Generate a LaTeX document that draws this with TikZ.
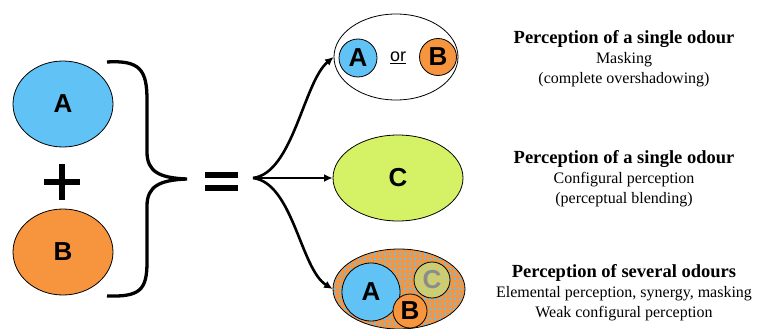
\documentclass[tikz,border=0pt]{standalone}
\usepackage{fontspec}
\setmainfont{Liberation Serif}
\newfontfamily\letterfont{Liberation Sans}
\usetikzlibrary{arrows.meta,shapes.geometric,patterns.meta}
\definecolor{odourA}{RGB}{97,195,245}
\definecolor{odourB}{RGB}{247,148,62}
\definecolor{odourC}{RGB}{213,242,102}
\definecolor{fadedC}{RGB}{200,222,120}

\begin{document}
\begin{tikzpicture}[x=1pt,y=-1pt]
\tikzstyle{odour} = [ellipse, draw, line width=0.8pt, inner sep=0pt, font=\letterfont\bfseries\fontsize{26}{26}\selectfont]
\tikzstyle{dot} = [circle, draw, line width=0.8pt, inner sep=0pt, font=\letterfont\bfseries\fontsize{26}{26}\selectfont]
\tikzstyle{arrow} = [-{Latex[length=3mm,width=2.8mm]}, line width=2.6pt]
\tikzstyle{caption} = [align=center, font=\fontsize{16}{20}\selectfont]
\useasboundingbox (0,0) rectangle (757,329);
\node[odour, fill=odourA, minimum width=100pt, minimum height=86pt] (inA) at (63,104) {A};
\node[odour, fill=odourB, minimum width=100pt, minimum height=86pt] (inB) at (63,252) {B};
\draw[line width=5.5pt] (44,182) -- (80,182) (62,164) -- (62,200);
\draw[line width=3.3pt] (107,62) .. controls (140,60) and (147,70) .. (147,100) -- (147,152)
  .. controls (147,172) and (160,178) .. (187,179)
  .. controls (160,180) and (147,186) .. (147,206) -- (147,262)
  .. controls (147,290) and (140,297) .. (107,296);
\draw[line width=5.5pt] (205,175) -- (238,175) (205,188) -- (238,188);
\coordinate (split) at (253,178);
\node[odour, fill=white, minimum width=124pt, minimum height=86pt] (masking) at (396,57) {};
\node[dot, fill=odourA, minimum size=38pt] (topA) at (358,58) {A};
\node[dot, fill=odourB, minimum size=37pt] (topB) at (438,57) {B};
\node[font=\letterfont\fontsize{18}{18}\selectfont] (orword) at (398,58) {\underline{or}};
\node[odour, fill=odourC, minimum width=130pt, minimum height=86pt] (blend) at (398,178) {C};
\node[odour, preaction={fill=odourB}, pattern={Dots[distance=5pt,radius=1.5pt]}, pattern color=odourA, minimum width=132pt, minimum height=80pt] (mix) at (399,289) {};
\node[dot, fill=odourA, minimum size=58pt] (mixA) at (371,292) {A};
\node[dot, fill=odourB, minimum size=34pt] (mixB) at (410,311) {B};
\node[dot, fill=fadedC, fill opacity=0.75, text opacity=1, text=black!45, minimum size=36pt] (mixC) at (432,280) {C};
\draw[arrow] (split) .. controls +(40,-5) and +(-30,25) .. (masking.west);
\draw[arrow] (split) -- (blend.west);
\draw[arrow] (split) .. controls +(40,5) and +(-32,-20) .. (mix.west);
\node[caption] (capMask) at (624,59) {{\bfseries\fontsize{18.5}{20}\selectfont Perception of a single odour}\\ Masking\\ (complete overshadowing)};
\node[caption] (capBlend) at (624,179) {{\bfseries\fontsize{18.5}{20}\selectfont Perception of a single odour}\\ Configural perception\\ (perceptual blending)};
\node[caption] (capMix) at (624,293) {{\bfseries\fontsize{18.5}{20}\selectfont Perception of several odours}\\ Elemental perception, synergy, masking\\ Weak configural perception};
\end{tikzpicture}
\end{document}
